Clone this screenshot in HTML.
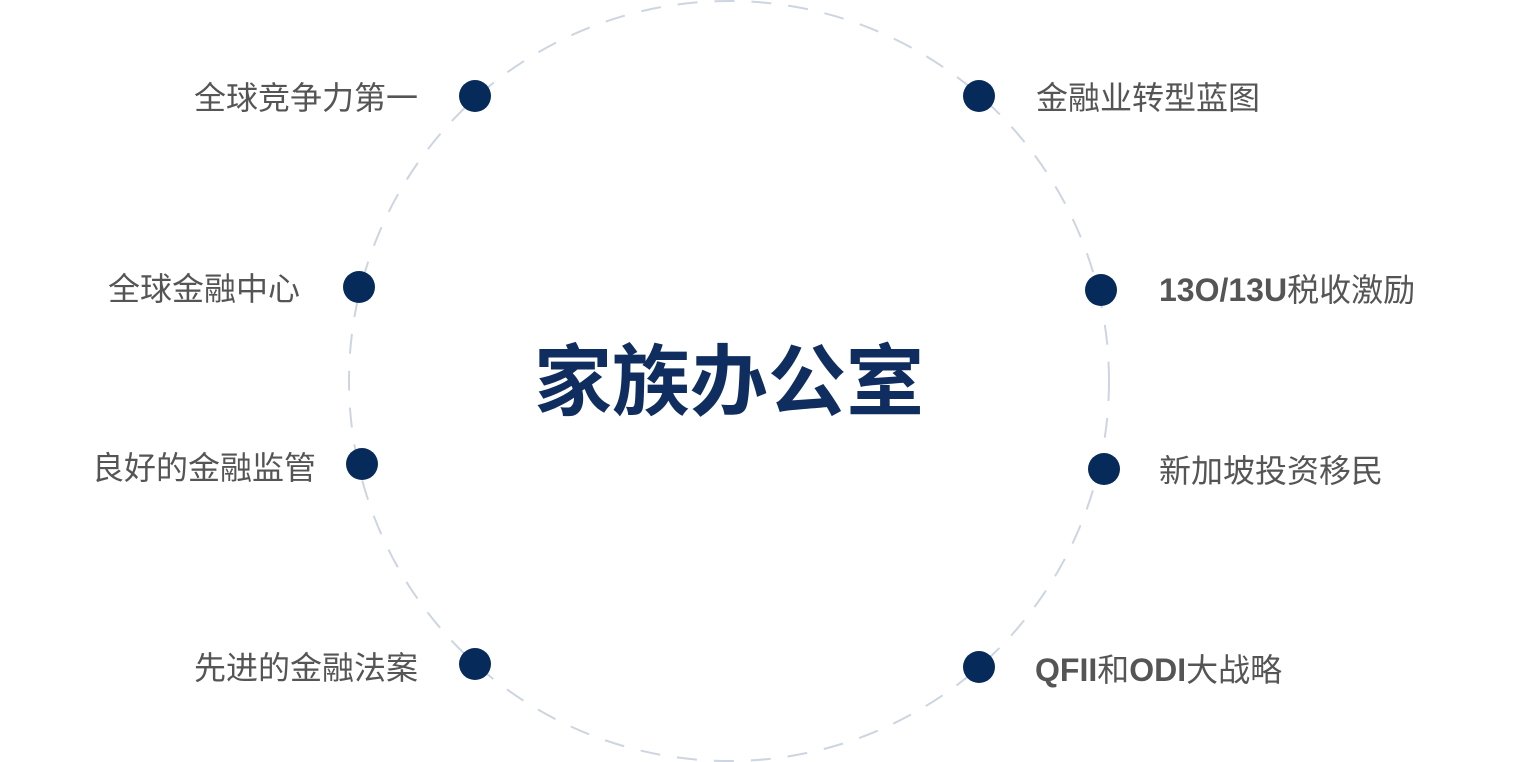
<!DOCTYPE html>
<html><head><meta charset="utf-8"><style>
html,body{margin:0;padding:0;background:#fff;}
body{width:1516px;height:762px;overflow:hidden;position:relative;font-family:"Liberation Sans","Noto Sans CJK SC",sans-serif;}
.l{position:absolute;font-size:32px;color:#555;line-height:1;white-space:nowrap;}
.l b{font-weight:bold;}
.r{text-align:right;}
</style></head><body>
<svg width="1516" height="762" style="position:absolute;left:0;top:0">
<circle cx="729" cy="381" r="380" fill="none" stroke="#cdd5e0" stroke-width="2" stroke-dasharray="20 17"/>
<g fill="#062b5a">
<circle cx="475" cy="96" r="16"/><circle cx="979" cy="96" r="16"/>
<circle cx="359" cy="287" r="16"/><circle cx="1101" cy="290" r="16"/>
<circle cx="362" cy="464" r="16"/><circle cx="1104" cy="469" r="16"/>
<circle cx="475" cy="664" r="16"/><circle cx="979" cy="667" r="16"/>
</g>
</svg>
<div class="l r" style="right:1098px;top:82px">全球竞争力第一</div>
<div class="l r" style="right:1216px;top:273px">全球金融中心</div>
<div class="l r" style="right:1200px;top:452px">良好的金融监管</div>
<div class="l r" style="right:1098px;top:652px">先进的金融法案</div>
<div class="l" style="left:1036px;top:82px">金融业转型蓝图</div>
<div class="l" style="left:1159px;top:274px"><b>13O/13U</b>税收激励</div>
<div class="l" style="left:1159px;top:455px">新加坡投资移民</div>
<div class="l" style="left:1035px;top:654px"><b>QFII</b>和<b>ODI</b>大战略</div>
<div style="position:absolute;left:429px;width:600px;top:343px;text-align:center;font-size:78px;font-weight:bold;color:#0f2d5e;line-height:1;">家族办公室</div>
</body></html>
